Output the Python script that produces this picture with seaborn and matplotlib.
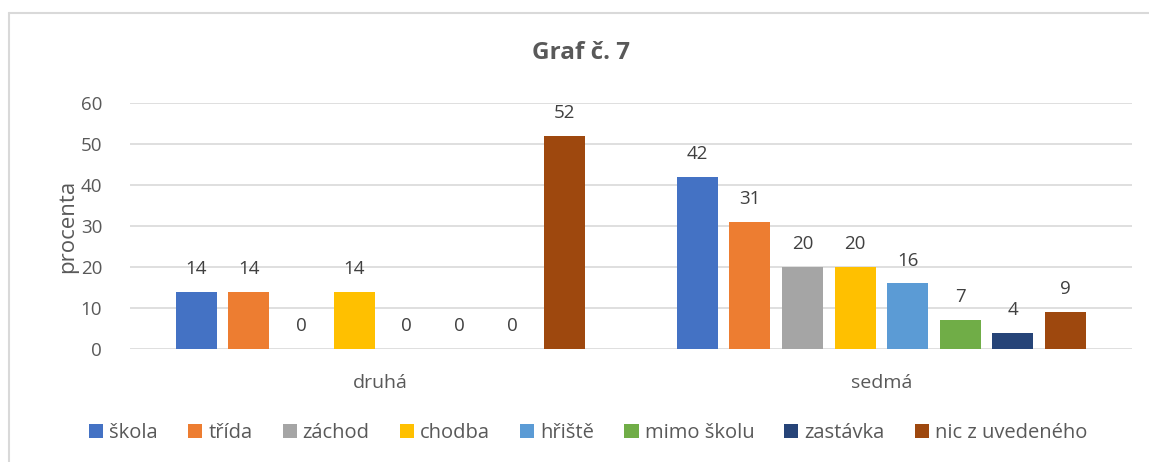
import pandas as pd
import matplotlib
matplotlib.use("Agg")
import matplotlib.pyplot as plt
import seaborn as sns
from matplotlib.lines import Line2D

# data
groups = ["druhá", "sedmá"]
places = ["škola", "třída", "záchod", "chodba", "hřiště", "mimo školu", "zastávka", "nic z uvedeného"]
druha = [14, 14, 0, 14, 0, 0, 0, 52]
sedma = [42, 31, 20, 20, 16, 7, 4, 9]
yticks = [0, 10, 20, 30, 40, 50, 60]

colors = ["#4472C4", "#ED7D31", "#A5A5A5", "#FFC000", "#5B9BD5", "#70AD47", "#264478", "#9E480E"]
text_col = "#595959"

df = pd.DataFrame({
    "skupina": [groups[0]] * len(places) + [groups[1]] * len(places),
    "misto": places * 2,
    "procenta": druha + sedma,
})

sns.set_theme(style="white")
plt.rcParams["font.family"] = ["Open Sans", "DejaVu Sans"]

fig = plt.figure(figsize=(11.49, 4.62), dpi=100)
ax = fig.add_axes([0.1131, 0.2446, 0.8719, 0.5324])

sns.barplot(data=df, x="skupina", y="procenta", hue="misto", hue_order=places,
            palette=colors, width=0.84, gap=0.22, saturation=1, linewidth=0,
            ax=ax, legend=True)

for cont in ax.containers:
    ax.bar_label(cont, padding=10, fontsize=13.5, color="#404040")

ax.set_ylim(0, 60)
ax.set_xlim(-0.5, 1.5)
ax.set_yticks(yticks)
ax.yaxis.grid(True, color="#D9D9D9", linewidth=1.2)
ax.set_axisbelow(True)
for s in ax.spines.values():
    s.set_visible(False)
ax.tick_params(axis="both", length=0, labelsize=13.5, colors=text_col)
ax.tick_params(axis="y", pad=20)
ax.tick_params(axis="x", pad=18, labelsize=14)
ax.set_xlabel("")
ax.set_ylabel("procenta", fontsize=16, color=text_col, labelpad=2)

ax.legend(loc="center", ncol=8, frameon=False, fontsize=14.5, labelcolor=text_col,
          handlelength=0.7, handleheight=0.7, handletextpad=0.3, columnspacing=1.5)
ax.get_legend().set_bbox_to_anchor((0.512, 0.062), transform=fig.transFigure)

fig.text(0.506, 0.885, "Graf č. 7", ha="center", va="center", fontsize=17.5,
         fontweight="bold", color=text_col)

# chart frame (left and top edges visible)
fig.add_artist(Line2D([0.008, 0.008], [0.0, 0.972], transform=fig.transFigure,
                      color="#D9D9D9", linewidth=1.5))
fig.add_artist(Line2D([0.008, 1.0], [0.972, 0.972], transform=fig.transFigure,
                      color="#D9D9D9", linewidth=1.5))

fig.savefig("out.png", dpi=100, facecolor="white")
